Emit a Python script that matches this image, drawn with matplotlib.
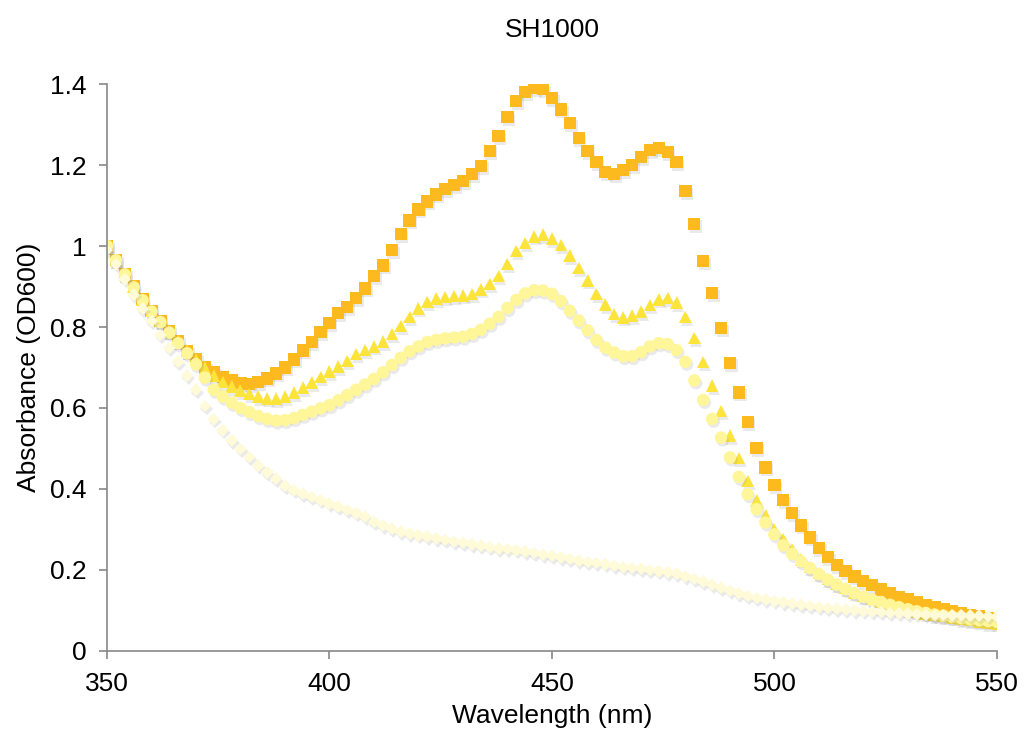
import numpy as np
import matplotlib
matplotlib.use('Agg')
import matplotlib.pyplot as plt
import matplotlib.patheffects as pe

plt.rcParams['font.family'] = ['Liberation Sans', 'DejaVu Sans']

# wavelength grid, 2 nm steps
wavelength = np.arange(350, 551, 2)

# orange squares
abs_sq = [1.00, 0.965, 0.93, 0.90, 0.87, 0.84, 0.815, 0.79, 0.765, 0.74,
          0.72, 0.70, 0.688, 0.677, 0.668, 0.662, 0.66, 0.665, 0.673, 0.685,
          0.70, 0.72, 0.742, 0.763, 0.787, 0.81, 0.835, 0.85, 0.872, 0.895,
          0.925, 0.952, 0.99, 1.03, 1.063, 1.09, 1.11, 1.127, 1.14, 1.15,
          1.16, 1.177, 1.198, 1.235, 1.272, 1.318, 1.358, 1.38, 1.39, 1.388,
          1.365, 1.337, 1.303, 1.267, 1.235, 1.207, 1.183, 1.178, 1.187, 1.20,
          1.22, 1.237, 1.242, 1.232, 1.207, 1.135, 1.055, 0.963, 0.883, 0.797,
          0.712, 0.638, 0.565, 0.502, 0.453, 0.41, 0.372, 0.34, 0.31, 0.28,
          0.255, 0.232, 0.212, 0.198, 0.184, 0.172, 0.162, 0.152, 0.142, 0.134,
          0.127, 0.12, 0.113, 0.108, 0.103, 0.098, 0.093, 0.089, 0.085, 0.081,
          0.077]

# yellow triangles
abs_tri = [1.00, 0.965, 0.93, 0.90, 0.868, 0.84, 0.815, 0.79, 0.765, 0.742,
           0.72, 0.70, 0.68, 0.664, 0.653, 0.643, 0.635, 0.628, 0.624, 0.623,
           0.628, 0.638, 0.65, 0.663, 0.676, 0.69, 0.702, 0.716, 0.733, 0.743,
           0.752, 0.764, 0.783, 0.802, 0.825, 0.846, 0.862, 0.87, 0.874, 0.877,
           0.878, 0.882, 0.893, 0.906, 0.926, 0.955, 0.988, 1.008, 1.024, 1.028,
           1.018, 1.002, 0.976, 0.946, 0.915, 0.882, 0.855, 0.832, 0.824, 0.828,
           0.838, 0.854, 0.868, 0.872, 0.86, 0.825, 0.773, 0.714, 0.655, 0.593,
           0.532, 0.476, 0.42, 0.372, 0.334, 0.30, 0.276, 0.252, 0.226, 0.208,
           0.192, 0.178, 0.166, 0.155, 0.145, 0.136, 0.128, 0.122, 0.116, 0.11,
           0.104, 0.098, 0.093, 0.089, 0.086, 0.083, 0.079, 0.076, 0.073, 0.07,
           0.068]

# pale yellow circles
abs_circ = [1.00, 0.965, 0.93, 0.898, 0.866, 0.838, 0.812, 0.786, 0.76, 0.735,
            0.708, 0.675, 0.645, 0.628, 0.613, 0.60, 0.59, 0.58, 0.573, 0.569,
            0.57, 0.575, 0.583, 0.591, 0.599, 0.607, 0.619, 0.632, 0.645, 0.658,
            0.672, 0.688, 0.706, 0.724, 0.74, 0.752, 0.763, 0.768, 0.772, 0.774,
            0.776, 0.783, 0.793, 0.808, 0.825, 0.847, 0.867, 0.883, 0.891, 0.89,
            0.882, 0.864, 0.84, 0.816, 0.792, 0.768, 0.749, 0.737, 0.728, 0.728,
            0.738, 0.752, 0.76, 0.758, 0.743, 0.714, 0.668, 0.62, 0.573, 0.527,
            0.478, 0.43, 0.387, 0.35, 0.317, 0.288, 0.261, 0.24, 0.221, 0.205,
            0.19, 0.176, 0.164, 0.153, 0.143, 0.134, 0.126, 0.12, 0.114, 0.108,
            0.103, 0.098, 0.094, 0.09, 0.087, 0.084, 0.081, 0.078, 0.076, 0.074,
            0.072]

# very pale diamonds
abs_dia = [0.99, 0.955, 0.918, 0.88, 0.845, 0.815, 0.78, 0.748, 0.714, 0.68,
           0.645, 0.605, 0.572, 0.545, 0.52, 0.499, 0.479, 0.458, 0.441, 0.425,
           0.408, 0.397, 0.388, 0.38, 0.372, 0.364, 0.356, 0.348, 0.34, 0.332,
           0.319, 0.31, 0.302, 0.295, 0.29, 0.286, 0.282, 0.278, 0.274, 0.27,
           0.267, 0.263, 0.26, 0.256, 0.253, 0.252, 0.249, 0.245, 0.242, 0.238,
           0.235, 0.231, 0.227, 0.223, 0.22, 0.217, 0.214, 0.21, 0.207, 0.205,
           0.203, 0.20, 0.197, 0.194, 0.191, 0.184, 0.178, 0.171, 0.164, 0.156,
           0.149, 0.142, 0.136, 0.131, 0.127, 0.123, 0.12, 0.117, 0.114, 0.111,
           0.108, 0.106, 0.104, 0.102, 0.10, 0.098, 0.097, 0.096, 0.094, 0.093,
           0.092, 0.091, 0.09, 0.089, 0.089, 0.088, 0.088, 0.087, 0.087, 0.086,
           0.085]

shadow = [pe.SimplePatchShadow(offset=(1.2, -2.0), shadow_rgbFace='#777777', alpha=0.15),
          pe.Normal()]

fig = plt.figure(figsize=(10.24, 7.35), dpi=100)
ax = fig.add_axes([0.1045, 0.1143, 0.869, 0.7714])

ax.plot(wavelength, abs_sq, 's', ms=8.8, color='#FDBA1F', mec='none', path_effects=shadow)
ax.plot(wavelength, abs_tri, '^', ms=9, color='#FDE43A', mec='none', path_effects=shadow)
ax.plot(wavelength, abs_circ, 'o', ms=9, color='#FFF69A', mec='none', path_effects=shadow)
ax.plot(wavelength, abs_dia, 'D', ms=6.5, color='#FFFAD8', mec='none', path_effects=shadow)

ax.set_xlim(350, 550)
ax.set_ylim(0, 1.4)
ax.set_xticks([350, 400, 450, 500, 550])
ax.set_yticks([0, 0.2, 0.4, 0.6, 0.8, 1.0, 1.2, 1.4])
ax.set_yticklabels(['0', '0.2', '0.4', '0.6', '0.8', '1', '1.2', '1.4'])

for s in ['top', 'right']:
    ax.spines[s].set_visible(False)
for s in ['left', 'bottom']:
    ax.spines[s].set_color('#888888')
    ax.spines[s].set_linewidth(1.2)
ax.tick_params(direction='out', length=6, width=1.2, color='#888888',
               labelsize=19, labelcolor='black', pad=9)

ax.set_xlabel('Wavelength (nm)', fontsize=19, labelpad=6)
ax.set_ylabel('Absorbance (OD600)', fontsize=19, labelpad=6)
ax.set_title('SH1000', fontsize=19, pad=34)

fig.savefig('out.png', dpi=100)
